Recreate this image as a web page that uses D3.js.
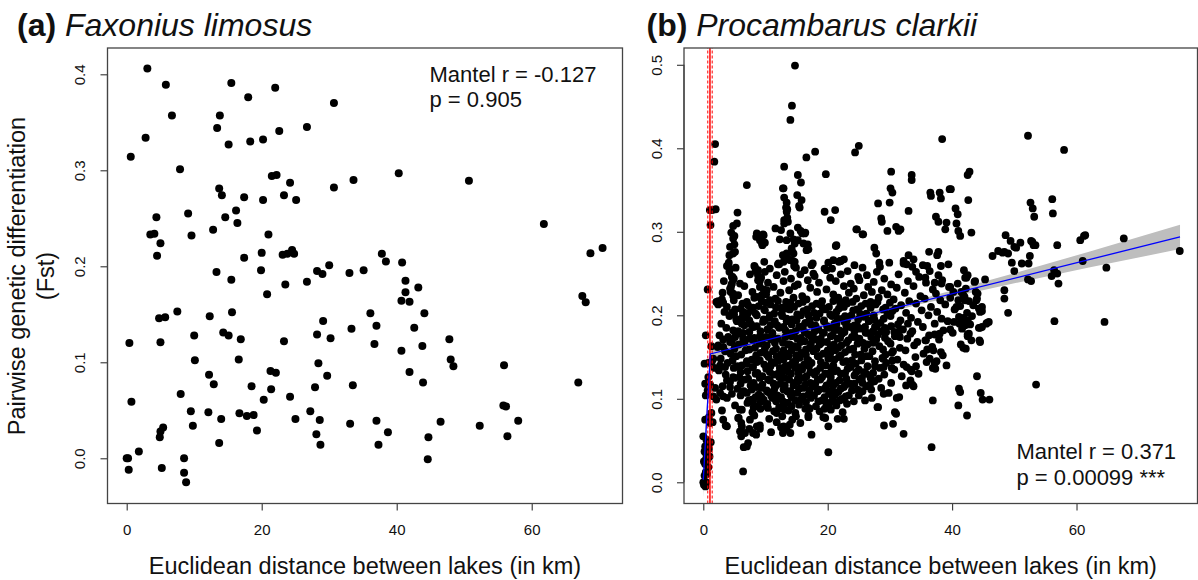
<!DOCTYPE html>
<html><head><meta charset="utf-8">
<script src="https://cdn.jsdelivr.net/npm/d3@7"></script>
<style>
body{margin:0;background:#fff}
svg text{font-family:"Liberation Sans",Arial,Helvetica,sans-serif;fill:#111}
</style>
</head><body>
<svg id="c" width="1198" height="580"></svg>
<script>
// ---------------- data ----------------
const xTicks = [0, 20, 40, 60];
const aYTicks = [0, 0.1, 0.2, 0.3, 0.4];
const bYTicks = [0, 0.1, 0.2, 0.3, 0.4, 0.5];
const titlesBold = ["(a)", "(b)"];
const titlesItalic = ["Faxonius limosus", "Procambarus clarkii"];
const xLabel = "Euclidean distance between lakes (in km)";
const yLabel = ["Pairwise genetic differentiation", "(Fst)"];
const statsA = ["Mantel r = -0.127", "p = 0.905"];
const statsB = ["Mantel r = 0.371", "p = 0.00099 ***"];

// panel (a) Faxonius limosus: [distance km, Fst]
const aPoints = [[3.06,0.406],[5.8,0.389],[15.5,0.391],[22.0,0.386],[18.0,0.376],[30.7,0.370],[6.7,0.357],[13.8,0.357],[13.4,0.344],[26.7,0.345],[22.6,0.341],[2.8,0.334],[18.3,0.330],[20.2,0.332],[15.1,0.327],[0.6,0.314],[7.9,0.301],[40.3,0.297],[21.5,0.294],[22.2,0.295],[24.2,0.287],[33.6,0.290],[50.7,0.289],[30.7,0.282],[13.7,0.281],[14.1,0.274],[23.3,0.274],[17.4,0.272],[20.2,0.269],[25.1,0.269],[16.2,0.258],[9.1,0.255],[14.6,0.251],[4.4,0.251],[16.4,0.245],[61.8,0.244],[12.8,0.238],[3.5,0.233],[4.1,0.234],[9.6,0.232],[21.0,0.233],[5.0,0.224],[4.5,0.211],[20.0,0.214],[17.4,0.209],[23.1,0.212],[23.8,0.213],[24.5,0.217],[24.8,0.213],[37.8,0.213],[68.7,0.2135],[70.5,0.219],[38.4,0.205],[40.8,0.204],[30.0,0.201],[19.9,0.196],[13.3,0.194],[28.2,0.195],[29.0,0.192],[33.0,0.193],[35.1,0.196],[15.5,0.186],[26.7,0.184],[41.3,0.185],[23.5,0.181],[43.2,0.178],[41.3,0.173],[20.8,0.171],[67.5,0.169],[40.7,0.164],[41.9,0.163],[68.0,0.1625],[7.5,0.153],[15.6,0.152],[36.1,0.151],[44.1,0.151],[12.3,0.148],[4.8,0.146],[5.7,0.147],[29.1,0.143],[37.0,0.138],[42.6,0.136],[33.3,0.135],[14.3,0.131],[15.1,0.128],[10.0,0.128],[28.2,0.129],[30.2,0.125],[16.9,0.124],[47.8,0.124],[23.3,0.122],[5.0,0.121],[0.4,0.120],[36.7,0.119],[43.8,0.117],[40.7,0.112],[10.1,0.102],[16.6,0.103],[48.0,0.103],[48.4,0.096],[55.9,0.097],[28.4,0.099],[21.3,0.091],[22.1,0.089],[41.9,0.090],[12.2,0.087],[29.7,0.086],[66.9,0.079],[43.9,0.079],[12.9,0.077],[33.5,0.076],[18.5,0.075],[27.9,0.074],[21.4,0.072],[8.0,0.067],[24.2,0.064],[20.3,0.061],[0.7,0.059],[55.8,0.055],[56.2,0.054],[9.5,0.049],[27.2,0.049],[12.1,0.048],[16.7,0.047],[17.8,0.044],[18.8,0.045],[14.0,0.041],[25.0,0.041],[28.6,0.040],[37.0,0.039],[58.0,0.039],[46.5,0.038],[33.1,0.036],[52.3,0.034],[9.8,0.034],[5.4,0.032],[5.0,0.028],[4.9,0.022],[19.3,0.029],[38.7,0.027],[28.1,0.025],[56.4,0.023],[44.7,0.022],[13.7,0.016],[28.7,0.014],[37.3,0.014],[1.8,0.007],[0.0,0.000],[0.2,0.000],[8.5,0.000],[44.6,-0.001],[0.3,-0.012],[5.2,-0.010],[8.5,-0.015],[8.8,-0.025]];

// panel (b) Procambarus clarkii: pairs near zero distance
const bNear = [[0,0],[0.1,-0.003],[0.35,-0.005],[0.5,0.0],[0.2,0.008],[0.4,0.012],[0.6,0.01],[0.3,0.022],[0.7,0.028],[0.5,0.033],[0.2,0.037],[0.9,0.04],[0.6,0.045],[1.2,0.048],[0.4,0.027],[1.0,0.031],[0.8,0.018],[0.0,0.055],[0.5,0.051],[0.3,0.043],[0.1,0.025],[0.3,0.075],[0.9,0.078],[1.5,0.072],[1.3,0.083],[0.4,0.104],[0.7,0.11],[0.3,0.118],[1.1,0.117],[1.6,0.103],[1.9,0.113],[0.8,0.126],[0.2,0.142],[0.8,0.143],[1.4,0.145],[1.8,0.137],[1.6,0.148],[1.3,0.163],[0.4,0.176],[0.7,0.231],[1.05,0.326],[1.45,0.326],[1.99,0.327],[1.16,0.308],[1.9,0.405],[1.77,0.384],[2.1,0.216],[3.2,0.215]];

// panel (b): dense central cloud
const bCore = [[4.1,0.263],[9.8,0.264],[12.2,0.261],[14.4,0.265],[17.6,0.262],[21.8,0.264],[24.3,0.260],[28.4,0.258],[32.2,0.265],[35.3,0.260],
[5.2,0.257],[8.4,0.253],[10.7,0.256],[13.1,0.252],[14.9,0.257],[16.3,0.254],[19.5,0.256],[23.2,0.253],[25.6,0.257],[27.9,0.252],[33.6,0.258],[36.4,0.253],[41.9,0.254],
[4.7,0.246],[7.5,0.249],[9.3,0.245],[11.8,0.248],[14.1,0.244],[15.6,0.249],[17.9,0.247],[20.4,0.245],[22.1,0.249],[24.9,0.246],[26.3,0.248],[29.1,0.244],[31.4,0.249],[34.7,0.246],[37.8,0.248],[42.3,0.245],
[3.3,0.241],[5.9,0.238],[8.8,0.242],[10.4,0.239],[12.9,0.241],[15.2,0.237],[16.8,0.242],[18.6,0.239],[21.3,0.241],[23.7,0.238],[25.1,0.242],[27.4,0.240],[30.2,0.237],[32.9,0.241],[35.8,0.239],[38.4,0.242],[40.9,0.238],[43.6,0.240],
[4.4,0.232],[6.6,0.235],[9.7,0.231],[11.3,0.234],[13.8,0.230],[14.7,0.235],[17.2,0.233],[19.8,0.231],[22.6,0.235],[24.2,0.232],[26.5,0.234],[28.7,0.230],[31.1,0.233],[33.8,0.235],[36.9,0.231],[39.5,0.234],[42.2,0.232],
[3.1,0.227],[5.6,0.224],[7.9,0.228],[10.1,0.225],[12.4,0.227],[15.9,0.223],[18.3,0.228],[20.9,0.225],[23.4,0.227],[25.8,0.224],[27.1,0.228],[29.6,0.225],[32.4,0.227],[34.9,0.223],[37.4,0.226],[40.2,0.228],[41.8,0.224],[44.1,0.226],
[4.9,0.218],[8.2,0.221],[9.4,0.217],[11.6,0.220],[13.3,0.216],[14.5,0.221],[16.6,0.219],[19.1,0.217],[21.7,0.221],[22.9,0.218],[24.6,0.220],[26.9,0.216],[28.2,0.221],[30.6,0.219],[33.1,0.217],[35.6,0.220],[38.1,0.218],[39.7,0.221],[42.7,0.217],
[2.4,0.213],[3.8,0.210],[6.3,0.214],[8.9,0.211],[10.8,0.213],[12.6,0.209],[15.3,0.214],[17.5,0.211],[18.8,0.213],[20.2,0.210],[23.1,0.214],[25.4,0.211],[27.7,0.213],[29.3,0.209],[31.8,0.212],[34.2,0.214],[36.6,0.210],[38.9,0.213],[41.3,0.211],[43.4,0.212],
[3.4,0.204],[5.1,0.207],[7.2,0.203],[9.9,0.206],[11.4,0.202],[13.9,0.207],[16.1,0.205],[17.8,0.203],[19.6,0.207],[21.4,0.204],[24.1,0.206],[26.2,0.202],[28.9,0.207],[30.4,0.205],[32.6,0.203],[35.1,0.206],[37.6,0.204],[40.4,0.207],[42.4,0.203],[44.8,0.205],
[4.2,0.199],[6.1,0.196],[8.6,0.200],[10.6,0.197],[12.7,0.199],[14.3,0.195],[15.7,0.200],[18.2,0.197],[20.7,0.199],[22.4,0.196],[23.8,0.200],[25.9,0.198],[27.5,0.195],[30.1,0.199],[33.4,0.197],[36.2,0.200],[38.3,0.196],[41.1,0.198],[43.2,0.199],
[2.9,0.190],[5.4,0.193],[7.7,0.189],[9.6,0.192],[11.9,0.188],[13.4,0.193],[16.4,0.191],[17.3,0.189],[19.4,0.193],[21.1,0.190],[22.7,0.192],[24.7,0.188],[26.6,0.193],[28.5,0.191],[31.3,0.189],[34.5,0.192],[37.2,0.190],[39.3,0.193],[42.9,0.189],[45.6,0.191],
[3.7,0.185],[4.8,0.182],[8.1,0.186],[10.3,0.183],[12.2,0.185],[14.8,0.181],[15.4,0.186],[18.5,0.183],[20.3,0.185],[21.9,0.182],[23.6,0.186],[25.2,0.184],[27.3,0.181],[29.2,0.185],[32.1,0.183],[35.3,0.186],[38.6,0.182],[41.6,0.184],[44.3,0.185],
[2.6,0.176],[6.4,0.179],[9.1,0.175],[11.1,0.178],[13.2,0.174],[14.1,0.179],[16.9,0.177],[17.6,0.175],[19.2,0.179],[20.8,0.176],[22.3,0.178],[24.4,0.174],[26.1,0.179],[28.1,0.177],[30.8,0.175],[33.3,0.178],[36.3,0.176],[40.1,0.179],[42.5,0.175],
[3.2,0.171],[4.6,0.168],[7.4,0.172],[9.4,0.169],[10.9,0.171],[12.8,0.167],[15.1,0.172],[16.3,0.169],[18.1,0.171],[19.9,0.168],[21.6,0.172],[23.3,0.170],[25.7,0.167],[27.8,0.171],[29.7,0.169],[32.8,0.172],[34.4,0.168],[37.9,0.171],[43.1,0.170],
[2.3,0.162],[5.7,0.165],[8.3,0.161],[10.2,0.164],[11.7,0.160],[13.6,0.165],[14.6,0.163],[17.1,0.161],[18.7,0.165],[20.5,0.162],[22.2,0.164],[24.1,0.160],[26.4,0.165],[28.3,0.163],[31.6,0.161],[33.9,0.164],[36.8,0.162],[41.4,0.165],
[3.5,0.157],[4.4,0.154],[6.8,0.158],[9.2,0.155],[11.2,0.157],[12.5,0.153],[14.2,0.158],[15.8,0.155],[17.7,0.157],[19.3,0.154],[21.2,0.158],[22.8,0.156],[25.3,0.153],[27.2,0.157],[30.3,0.155],[32.5,0.158],[35.4,0.154],[38.2,0.156],
[2.8,0.148],[5.3,0.151],[7.8,0.147],[10.5,0.150],[12.1,0.146],[13.7,0.151],[15.5,0.149],[16.7,0.147],[18.4,0.151],[20.1,0.148],[21.8,0.150],[23.9,0.146],[26.7,0.151],[28.8,0.149],[31.2,0.147],[34.1,0.150],[36.4,0.148],
[3.9,0.143],[6.2,0.140],[8.6,0.144],[9.8,0.141],[11.5,0.143],[13.2,0.139],[14.4,0.144],[16.2,0.141],[17.4,0.143],[19.7,0.140],[22.5,0.144],[24.5,0.142],[27.6,0.139],[29.4,0.143],[32.2,0.141],[35.9,0.144],[39.1,0.140],
[2.5,0.134],[4.9,0.137],[7.1,0.133],[10.1,0.136],[12.6,0.132],[14.8,0.137],[15.9,0.135],[18.2,0.133],[20.6,0.137],[21.5,0.134],[23.2,0.136],[25.8,0.132],[28.4,0.137],[30.7,0.135],[33.5,0.133],[37.3,0.136],
[3.6,0.129],[5.8,0.126],[8.4,0.130],[9.5,0.127],[11.3,0.129],[13.1,0.125],[14.1,0.130],[16.6,0.127],[17.9,0.129],[19.1,0.126],[22.1,0.130],[24.3,0.128],[26.9,0.125],[29.1,0.129],[31.9,0.127],[34.6,0.130],
[4.3,0.120],[6.7,0.123],[8.1,0.119],[10.7,0.122],[12.4,0.118],[13.8,0.123],[15.3,0.121],[17.2,0.119],[18.8,0.123],[20.4,0.120],[21.9,0.122],[23.6,0.118],[25.1,0.123],[27.4,0.121],[30.2,0.119],[33.3,0.122],
[3.1,0.115],[5.5,0.112],[7.6,0.116],[9.3,0.113],[11.6,0.115],[12.9,0.111],[14.5,0.116],[16.1,0.113],[17.6,0.115],[19.5,0.112],[20.9,0.116],[22.6,0.114],[24.8,0.111],[26.2,0.115],[28.6,0.113],[32.6,0.116],
[4.6,0.106],[6.5,0.109],[8.9,0.105],[10.4,0.108],[11.9,0.104],[13.5,0.109],[15.1,0.107],[16.9,0.105],[18.4,0.109],[20.2,0.106],[21.7,0.108],[23.4,0.104],[25.6,0.109],[29.8,0.107],
[3.8,0.101],[7.3,0.098],[8.4,0.102],[9.7,0.099],[11.1,0.101],[12.8,0.097],[14.2,0.102],[15.7,0.099],[17.3,0.101],[19.1,0.098],[20.8,0.102],[22.3,0.100],[24.2,0.097],[27.1,0.101],
[5.1,0.092],[7.1,0.095],[8.7,0.091],[10.3,0.094],[12.2,0.090],[13.6,0.095],[15.4,0.093],[18.1,0.091],[19.8,0.095],[21.4,0.092],[23.1,0.094],
[6.2,0.087],[7.9,0.084],[9.2,0.088],[11.4,0.085],[13.1,0.087],[14.8,0.083],[16.4,0.088],[18.7,0.085],[20.5,0.087],[22.4,0.084],
[5.6,0.077],[8.2,0.080],[10.6,0.076],[12.7,0.079],[14.3,0.075],[16.9,0.080],[19.3,0.078],[21.6,0.076],
[6.1,0.071],[9.1,0.068],[11.8,0.072],[13.9,0.069],[15.6,0.071],[20.1,0.067],
[5.9,0.061],[7.4,0.064],[10.9,0.060],[13.4,0.063]];

// panel (b): densest part of the cloud (extra pairs between the ones above)
const bDense = [[7.0,0.216],[10.0,0.215],[12.0,0.217],[14.0,0.215],[16.0,0.216],[18.2,0.214],[20.9,0.217],[22.0,0.215],[24.0,0.216],[26.1,0.214],[28.0,0.216],[30.0,0.215],
[6.0,0.208],[8.0,0.209],[9.8,0.207],[11.7,0.209],[13.3,0.208],[14.6,0.210],[16.7,0.207],[19.2,0.209],[21.8,0.208],[22.6,0.210],[24.7,0.207],[26.9,0.209],[30.9,0.208],
[6.4,0.201],[8.4,0.202],[10.7,0.200],[12.6,0.202],[15.1,0.201],[16.9,0.200],[18.7,0.202],[20.4,0.201],[22.8,0.199],[25.2,0.202],[27.4,0.200],[29.6,0.201],
[5.3,0.195],[7.4,0.194],[9.7,0.195],[11.5,0.193],[13.4,0.196],[15.0,0.194],[17.1,0.195],[19.4,0.194],[21.6,0.196],[23.1,0.194],[24.9,0.195],[26.8,0.194],[29.0,0.196],[31.7,0.194],
[6.6,0.188],[8.6,0.187],[10.8,0.188],[12.9,0.186],[14.2,0.189],[16.0,0.187],[18.0,0.188],[19.9,0.187],[21.4,0.189],[23.0,0.187],[24.3,0.188],[26.0,0.186],[27.9,0.188],[30.2,0.187],
[5.6,0.181],[7.4,0.180],[9.2,0.181],[11.1,0.179],[13.2,0.182],[16.3,0.180],[17.9,0.181],[19.4,0.179],[21.1,0.182],[22.7,0.180],[24.3,0.181],[26.4,0.179],[28.6,0.181],[30.7,0.180],[33.6,0.181],
[5.1,0.174],[8.2,0.173],[10.1,0.174],[12.0,0.172],[14.2,0.175],[15.7,0.173],[17.4,0.174],[18.9,0.172],[20.5,0.175],[22.0,0.173],[23.9,0.174],[25.1,0.172],[27.0,0.174],[29.2,0.173],[31.6,0.174],
[6.6,0.167],[9.0,0.166],[11.5,0.167],[13.9,0.165],[15.6,0.168],[17.3,0.166],[19.0,0.167],[21.0,0.165],[23.0,0.167],[24.8,0.166],[27.3,0.167],[30.1,0.166],
[5.0,0.160],[7.4,0.159],[9.9,0.160],[12.9,0.158],[15.2,0.161],[16.5,0.159],[18.2,0.160],[20.0,0.158],[21.7,0.161],[23.5,0.159],[25.9,0.160],[28.9,0.159],
[6.1,0.153],[8.5,0.152],[10.2,0.153],[11.8,0.151],[13.3,0.154],[14.9,0.152],[16.5,0.153],[18.6,0.151],[20.4,0.154],[22.1,0.152],[24.4,0.153],[26.2,0.151],[29.3,0.153],
[4.7,0.146],[7.0,0.145],[9.1,0.146],[11.0,0.144],[12.9,0.147],[14.8,0.145],[16.9,0.146],[18.9,0.144],[21.1,0.147],[23.0,0.145],[25.4,0.146],[27.6,0.145],[30.4,0.146],
[5.5,0.139],[7.9,0.138],[10.8,0.139],[12.3,0.137],[13.8,0.140],[15.4,0.138],[17.0,0.139],[18.8,0.137],[20.9,0.140],[23.7,0.138],[26.4,0.139],[29.0,0.138],
[6.0,0.132],[8.7,0.131],[10.7,0.132],[12.0,0.130],[13.6,0.133],[15.3,0.131],[17.2,0.132],[19.6,0.130],[21.1,0.133],[22.8,0.131],[24.6,0.132],[27.3,0.131],
[5.0,0.125],[7.2,0.124],[9.1,0.125],[10.4,0.123],[12.2,0.126],[15.2,0.124],[16.2,0.125],[18.4,0.123],[20.5,0.126],[23.0,0.124],[25.5,0.125],[28.2,0.124],
[6.0,0.118],[9.5,0.117],[11.3,0.118],[13.1,0.116],[14.6,0.119],[16.4,0.117],[18.0,0.118],[19.8,0.116],[21.3,0.119],[22.9,0.117],[24.3,0.118],[26.8,0.117],
[7.8,0.111],[10.2,0.110],[11.4,0.111],[14.0,0.109],[15.4,0.112],[17.1,0.110],[18.6,0.111],[20.5,0.109],[22.1,0.112],[23.9,0.110],[27.0,0.111],
[6.0,0.104],[9.3,0.103],[10.9,0.104],[12.5,0.102],[14.0,0.105],[16.1,0.103],[17.8,0.104],[19.5,0.102],[21.2,0.105],[22.9,0.103],[25.0,0.104],
[8.0,0.097],[9.2,0.096],[11.7,0.097],[13.2,0.095],[14.8,0.098],[16.5,0.096],[18.5,0.097],[20.3,0.095],[21.9,0.098],
[8.1,0.090],[10.4,0.089],[12.7,0.088],[14.2,0.091],[16.9,0.089],[19.5,0.088]];

// panel (b): left-hand and lower scatter
const bLeft = [[4.3,0.232],[4.8,0.226],[4.6,0.238],[7.2,0.212],[7.8,0.206],[8.6,0.222],[9.4,0.224],[9.9,0.194],[6.4,0.204],[7.0,0.198],[6.2,0.190],[4.6,0.203],[2.4,0.164],[3.2,0.162],[4.0,0.174],[4.3,0.168],[2.7,0.140],[3.5,0.138],[3.8,0.122],[4.3,0.114],[4.8,0.126],[2.7,0.107],[3.2,0.103],[2.1,0.099],[3.2,0.075],[3.8,0.067],[1.1,0.071],[5.9,0.087],[6.2,0.067],[6.7,0.059],[7.0,0.043],[7.2,0.047],[6.4,0.013],[9.1,0.234],[10.2,0.230],[10.7,0.218],[5.9,0.178],[6.4,0.172],[8.0,0.170],[7.0,0.142],[8.0,0.138],[9.1,0.126],[8.6,0.114],[7.0,0.107],[7.8,0.099],[7.5,0.075],[8.6,0.067],[8.0,0.059],[10.2,0.091],[11.8,0.083],[12.9,0.067],[14.0,0.059],[5.7,0.077],[6.1,0.055],[6.5,0.042],[3.0,0.086],[3.6,0.068],[9.1,0.064],[8.5,0.057],[12.5,0.066],[12.8,0.059],[13.7,0.086],[14.9,0.079],[17.1,0.088]];

// panel (b): upper and right-hand scatter
const bOuter = [[14.74,0.499],[14.25,0.451],[14.0,0.434],[25.0,0.403],[24.4,0.395],[17.98,0.396],[16.57,0.389],[13.0,0.378],[38.4,0.411],[52.2,0.415],[58.0,0.398],[19.7,0.369],[30.2,0.372],[15.2,0.368],[33.5,0.368],[33.5,0.362],[42.8,0.372],[42.5,0.368],[7.0,0.356],[15.7,0.359],[39.6,0.351],[30.1,0.352],[30.4,0.347],[12.8,0.352],[13.0,0.341],[15.1,0.344],[15.8,0.338],[36.5,0.347],[38.0,0.347],[36.6,0.343],[38.2,0.340],[42.6,0.338],[28.1,0.334],[29.96,0.335],[52.6,0.335],[56.1,0.339],[15.5,0.329],[13.3,0.329],[13.4,0.324],[5.5,0.323],[19.5,0.324],[21.2,0.326],[20.5,0.314],[33.0,0.325],[40.55,0.328],[40.9,0.321],[52.96,0.328],[53.2,0.318],[56.2,0.322],[4.8,0.307],[5.4,0.310],[11.6,0.304],[13.0,0.310],[12.5,0.302],[13.5,0.317],[15.2,0.305],[15.65,0.301],[28.6,0.316],[28.7,0.312],[31.0,0.306],[31.4,0.301],[31.7,0.303],[29.6,0.301],[37.4,0.318],[39.1,0.311],[38.9,0.303],[40.7,0.310],[41.0,0.301],[41.3,0.295],[43.1,0.299],[24.6,0.303],[25.6,0.297],[48.6,0.296],[49.4,0.289],[50.98,0.287],[52.7,0.289],[53.1,0.284],[56.9,0.284],[60.6,0.290],[61.2,0.295],[67.6,0.292],[76.6,0.277],[61.0,0.265],[64.8,0.257],[56.45,0.193],[64.5,0.192],[53.5,0.117],[56.9,0.250],[56.0,0.247],[57.1,0.238],[56.4,0.254],[52.2,0.243],[52.7,0.241],[52.5,0.271],[51.2,0.262],[52.3,0.262],[49.6,0.263],[50.0,0.253],[50.3,0.281],[46.5,0.271],[47.4,0.277],[48.4,0.276],[49.0,0.274],[48.4,0.230],[48.4,0.220],[49.0,0.203],[45.3,0.243],[45.9,0.192],[44.8,0.186],[44.4,0.170],[44.0,0.127],[44.6,0.107],[44.9,0.099],[46.0,0.099],[41.1,0.112],[41.0,0.092],[42.4,0.080],[36.9,0.098],[36.7,0.042],[20.1,0.036],[32.2,0.058],[29.05,0.068],[30.5,0.070],[28.0,0.090],[26.0,0.098],[17.4,0.057],[16.9,0.078],[22.6,0.076],[19.6,0.077],[19.75,0.090],
[12.9,0.352],[15.4,0.331],[13.4,0.335],[13.5,0.327],[5.0,0.295],[4.3,0.282],[4.8,0.274],[4.2,0.256],[4.6,0.246],[4.9,0.244],[8.6,0.298],[9.6,0.297],[9.1,0.290],[9.9,0.287],[9.5,0.284],[8.3,0.258],[8.8,0.254],[9.9,0.252],[13.0,0.314],[13.6,0.312],[12.3,0.291],[13.4,0.290],[14.0,0.298],[14.5,0.291],[14.7,0.286],[14.2,0.280],[12.1,0.262],[12.9,0.264],[14.0,0.266],[14.7,0.264],[13.4,0.274],[14.5,0.274],[15.9,0.298],[16.4,0.299],[16.1,0.286],[16.6,0.278],[17.4,0.260],[17.7,0.250],[19.8,0.254],[20.9,0.266],[22.1,0.265],[21.4,0.284],[24.7,0.303],[25.7,0.297],
[4.5,0.299],[4.8,0.292],[5.0,0.285],[4.2,0.272],[5.1,0.276],[3.8,0.259],[4.2,0.252],[4.8,0.243],[4.5,0.236],[4.4,0.228],[4.8,0.223],[3.0,0.219],[2.4,0.217],[4.7,0.203],[4.95,0.201],[6.7,0.197],[8.5,0.294],[9.4,0.287],[9.7,0.296],[8.2,0.259],[8.8,0.248],[9.1,0.241],[16.3,0.298],[16.8,0.285],[16.9,0.279],[15.2,0.290],[14.3,0.276],[13.7,0.267],[14.6,0.259],[12.8,0.272],[12.0,0.261],[21.3,0.283],[22.6,0.267],[22.0,0.265],[20.1,0.263],[20.7,0.256],[27.5,0.281],[27.8,0.274],[28.3,0.263],[29.9,0.263],[32.2,0.262],[32.7,0.261],[33.0,0.272],[33.8,0.267],[36.3,0.276],[37.8,0.276],[37.6,0.272],[36.0,0.259],[38.2,0.259],[39.4,0.261],[34.2,0.252],[35.7,0.245],[37.2,0.239],[42.1,0.245],[42.5,0.248],[43.7,0.241],[44.0,0.220],[44.3,0.208],[42.1,0.218],[41.8,0.197],[41.2,0.190],[42.5,0.194],[42.1,0.188],[42.5,0.177],[41.8,0.161],[40.3,0.192],[39.7,0.183],[38.5,0.152],[37.2,0.143],[36.9,0.137],[36.0,0.159],[35.7,0.170],[34.2,0.139],[33.3,0.135],[33.6,0.117],[31.1,0.101],[30.8,0.084],[29.0,0.106],[27.5,0.121],[26.2,0.130],[25.0,0.135],[25.6,0.119],[22.6,0.099],[21.0,0.108],[21.3,0.095],[20.1,0.130],
[37.5,0.145],[42.2,0.160],[44.5,0.168],[45.5,0.190],[44.5,0.185],[42.7,0.178],[41.8,0.190],[44.5,0.204],[44.8,0.210],[33.8,0.115],[31.5,0.102],[31.0,0.082],[28.1,0.090],[41.3,0.108],[32.7,0.138],[30.3,0.137],[28.9,0.148],[30.5,0.157],[37.0,0.158],[35.8,0.170],[37.2,0.177],[38.0,0.178],[32.9,0.190],[31.6,0.182],[29.4,0.180],[27.6,0.186],[40.7,0.210],[41.0,0.218],[41.5,0.228],[42.0,0.222],[43.9,0.218],[43.8,0.228],[39.7,0.234],[38.3,0.238],[39.8,0.351],[37.8,0.312],[50.0,0.282],[48.1,0.275],[52.9,0.288],[53.4,0.284],[61.4,0.296]];

// segmented regression (panel b)
const breakPoint = 1.07;
const breakCI = [0.72, 1.43];
const fitDist = [0, 1.13, 76.64];
const fitFst = [0.003, 0.1537, 0.2938];
const band1Dist = [0, 1.13];
const band1Lo = [-0.018, 0.146];
const band1Hi = [0.024, 0.161];
const band2Dist = [1.13, 7, 20, 35, 50, 62, 76.64];
const band2Lo = [0.146, 0.159, 0.1852, 0.2135, 0.2383, 0.2571, 0.2793];
const band2Hi = [0.161, 0.1701, 0.1922, 0.2195, 0.2503, 0.2761, 0.3083];

// ---------------- drawing ----------------
const svg = d3.select("#c");
const FONT = '"Liberation Sans",Arial,Helvetica,sans-serif';

function panel(cfg){
  const x = d3.scaleLinear().domain(cfg.xDom).range([cfg.box.l, cfg.box.r]);
  const y = d3.scaleLinear().domain(cfg.yDom).range([cfg.box.b, cfg.box.t]);
  const g = svg.append("g");

  const gx = g.append("g").attr("transform", `translate(0,${cfg.box.b})`)
    .call(d3.axisBottom(x).tickValues(xTicks).tickSize(7).tickPadding(14).tickFormat(d3.format("d")));
  gx.select(".domain").attr("d", `M${x(xTicks[0])},0H${x(xTicks[xTicks.length-1])}`);
  gx.attr("font-family", FONT).attr("font-size", 15);
  gx.selectAll("line,.domain").attr("stroke", "#333").attr("stroke-width", 1.1);
  gx.selectAll("text").attr("fill", "#111");

  const yt = cfg.yTicks;
  const gy = g.append("g").attr("transform", `translate(${cfg.box.l},0)`)
    .call(d3.axisLeft(y).tickValues(yt).tickSize(7).tickFormat(d3.format(".1f")));
  gy.select(".domain").attr("d", `M0,${y(yt[0])}V${y(yt[yt.length-1])}`);
  gy.attr("font-family", FONT).attr("font-size", 15);
  gy.selectAll("line,.domain").attr("stroke", "#333").attr("stroke-width", 1.1);
  gy.selectAll("text").attr("x", null).attr("dy", "0.35em").attr("fill", "#111")
    .attr("text-anchor", "middle").attr("transform", "translate(-27.5,0) rotate(-90)");

  const plot = g.append("g");
  if (cfg.extra) cfg.extra(plot, x, y, "under");
  plot.append("g").selectAll("circle").data(cfg.points).join("circle")
    .attr("cx", d => x(d[0])).attr("cy", d => y(d[1])).attr("r", cfg.r).attr("fill", "#000");
  if (cfg.extra) cfg.extra(plot, x, y, "over");

  g.append("rect").attr("x", cfg.box.l).attr("y", cfg.box.t)
    .attr("width", cfg.box.r - cfg.box.l).attr("height", cfg.box.b - cfg.box.t)
    .attr("fill", "none").attr("stroke", "#444").attr("stroke-width", 1.3);

  g.append("text").attr("x", (cfg.box.l + cfg.box.r) / 2).attr("y", 574)
    .attr("text-anchor", "middle").attr("font-size", 23.5).text(xLabel);

  const t = g.append("text").attr("x", cfg.titleX).attr("y", 36).attr("font-size", 32);
  t.append("tspan").attr("font-weight", "bold").text(cfg.titleBold + " ");
  t.append("tspan").attr("font-style", "italic").text(cfg.titleItalic);

  cfg.stats.forEach((s, i) => {
    g.append("text").attr("x", cfg.statX).attr("y", cfg.statY[i]).attr("font-size", 22).text(s);
  });
  return {x, y};
}

panel({
  box: {l: 107.5, r: 622.5, t: 48, b: 503.5},
  xDom: [-2.844, 73.45], yDom: [-0.0471, 0.4274],
  yTicks: aYTicks, points: aPoints, r: 4,
  titleX: 17, titleBold: titlesBold[0], titleItalic: titlesItalic[0],
  stats: statsA, statX: 429.5, statY: [81.5, 107]
});

panel({
  box: {l: 684, r: 1197.5, t: 48, b: 503.5},
  xDom: [-3.103, 79.45], yDom: [-0.0254, 0.5201],
  yTicks: bYTicks, points: bNear.concat(bCore, bDense, bLeft, bOuter), r: 3.9,
  titleX: 646.5, titleBold: titlesBold[1], titleItalic: titlesItalic[1],
  stats: statsB, statX: 1016.5, statY: [459, 484.5],
  extra: (p, x, y, stage) => {
    if (stage === "under") {
      const area = d3.area().x(d => x(d.d)).y0(d => y(d.lo)).y1(d => y(d.hi));
      p.append("path").datum(band1Dist.map((d, i) => ({d, lo: band1Lo[i], hi: band1Hi[i]})))
        .attr("d", area).attr("fill", "#bebebe");
      p.append("path").datum(band2Dist.map((d, i) => ({d, lo: band2Lo[i], hi: band2Hi[i]})))
        .attr("d", area).attr("fill", "#bebebe");
    } else {
      const [y0, y1] = y.range();
      p.append("line").attr("x1", x(breakPoint)).attr("x2", x(breakPoint)).attr("y1", y0).attr("y2", y1)
        .attr("stroke", "#ff0000").attr("stroke-width", 1.5);
      breakCI.forEach(v => {
        p.append("line").attr("x1", x(v)).attr("x2", x(v)).attr("y1", y0).attr("y2", y1)
          .attr("stroke", "#ff0000").attr("stroke-width", 1).attr("stroke-dasharray", "3,2");
      });
      const line = d3.line().x(d => x(d[0])).y(d => y(d[1]));
      p.append("path").datum(fitDist.map((d, i) => [d, fitFst[i]]))
        .attr("d", line).attr("fill", "none").attr("stroke", "#0000ff").attr("stroke-width", 1.3);
    }
  }
});

const yl = svg.append("g").attr("transform", "translate(0,276) rotate(-90)");
yl.append("text").attr("x", 0).attr("y", 25).attr("text-anchor", "middle").attr("font-size", 23.5).text(yLabel[0]);
yl.append("text").attr("x", 0).attr("y", 54).attr("text-anchor", "middle").attr("font-size", 23.5).text(yLabel[1]);
</script>
</body></html>
